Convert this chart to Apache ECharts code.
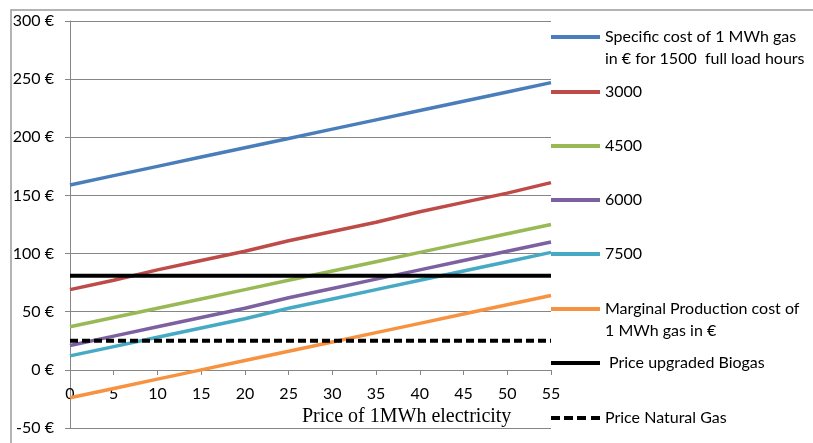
<!DOCTYPE html>
<html>
<head>
<meta charset="utf-8">
<script src="https://cdn.jsdelivr.net/npm/echarts@6/dist/echarts.min.js"></script>
<style>
  html, body { margin: 0; padding: 0; background: #fff; }
  #chart { width: 813px; height: 443px; }
</style>
</head>
<body>
<div id="chart"></div>
<script>
// price of 1 MWh electricity
const xValues = [0, 5, 10, 15, 20, 25, 30, 35, 40, 45, 50, 55];

// specific cost of 1 MWh gas by full load hours
const cost1500 = [159, 167, 175, 183, 191, 199, 207, 215, 223, 231, 239, 247];
const cost3000 = [69, 77, 86, 94, 102, 111, 119, 127, 136, 144, 152, 161];
const cost4500 = [37, 45, 53, 61, 69, 77, 85, 93, 101, 109, 117, 125];
const cost6000 = [21, 29, 37, 45, 53, 62, 70, 78, 86, 94, 102, 110];
const cost7500 = [12, 20, 28, 36, 44, 53, 61, 69, 77, 85, 93, 101];
const marginalCost = [-24, -16, -8, 0, 8, 16, 24, 32, 40, 48, 56, 64];
const biogasPrice = [81, 81, 81, 81, 81, 81, 81, 81, 81, 81, 81, 81];
const naturalGasPrice = [25, 25, 25, 25, 25, 25, 25, 25, 25, 25, 25, 25];

const names = [
  'Specific cost of 1 MWh gas\nin € for 1500  full load hours',
  '3000',
  '4500',
  '6000',
  '7500',
  'Marginal Production cost of\n1 MWh gas in €',
  'Price upgraded Biogas',
  'Price Natural Gas',
];
const colors = ['#4a7ebb', '#be4b48', '#98b954', '#7d60a0', '#46aac5', '#f69240', '#000000', '#000000'];
const allData = [cost1500, cost3000, cost4500, cost6000, cost7500, marginalCost, biogasPrice, naturalGasPrice];
const legendTops = [4, 81, 135, 189, 243, 276, 352, 407];

const font = 'Lato, "Liberation Sans", sans-serif';

// legend icons drawn as short line segments (solid / dashed)
const solidIcon = 'path://M0,0H49V4H0Z';
const dashIcon = 'path://M0,0H9V4H0Z M13,0H22V4H13Z M26,0H35V4H26Z M40,0H49V4H40Z';

const chart = echarts.init(document.getElementById('chart'));

const series = names.map((name, i) => ({
  name,
  type: 'line',
  symbol: 'none',
  data: xValues.map((x, j) => [x, allData[i][j]]),
  lineStyle: {
    color: colors[i],
    width: i >= 6 ? 4 : 3.5,
    type: i === 7 ? [8, 4] : 'solid',
  },
  itemStyle: { color: colors[i] },
}));

const legends = names.map((name, i) => {
  const twoLines = name.includes('\n');
  return {
    data: [{ name, icon: i === 7 ? dashIcon : solidIcon }],
    left: 551,
    top: legendTops[i],
    padding: 0,
    itemWidth: 49,
    itemHeight: 4,
    selectedMode: false,
    // blank first line keeps the first text line level with the icon
    formatter: (n) => (twoLines ? ' \n' + n : n),
    textStyle: {
      fontFamily: font,
      fontSize: 16,
      color: '#000',
      lineHeight: 22,
      padding: i === 6 ? [0, 0, 0, 4] : 0,
    },
  };
});

chart.setOption({
  animation: false,
  backgroundColor: '#fff',
  title: {
    text: 'Price of 1MWh electricity',
    left: 302,
    top: 407,
    padding: 0,
    textStyle: {
      fontFamily: '"Liberation Serif", serif',
      fontSize: 20,
      fontWeight: 'normal',
      color: '#000',
    },
  },
  graphic: [{
    type: 'rect',
    z: -1,
    shape: { x: 11, y: 10, width: 900, height: 500 },
    style: { fill: 'none', stroke: '#9a9a9a', lineWidth: 1.5 },
  }],
  legend: legends,
  grid: { left: 70, top: 21, right: 262, bottom: 15 },
  xAxis: {
    type: 'value',
    min: 0,
    max: 55,
    interval: 5,
    offset: -58,
    axisLine: { onZero: false, lineStyle: { color: '#868686', width: 1 } },
    axisTick: { show: true, length: 5, lineStyle: { color: '#868686' } },
    axisLabel: { fontFamily: font, fontSize: 16, color: '#000', margin: 16 },
    splitLine: { show: false },
  },
  yAxis: {
    type: 'value',
    min: -50,
    max: 300,
    interval: 50,
    axisLine: { show: true, onZero: false, lineStyle: { color: '#868686', width: 1 } },
    axisTick: { show: true, length: 5, lineStyle: { color: '#868686' } },
    axisLabel: { fontFamily: font, fontSize: 16, color: '#000', margin: 16, formatter: '{value} €' },
    splitLine: { lineStyle: { color: '#868686', width: 1 } },
  },
  series,
});
</script>
</body>
</html>
